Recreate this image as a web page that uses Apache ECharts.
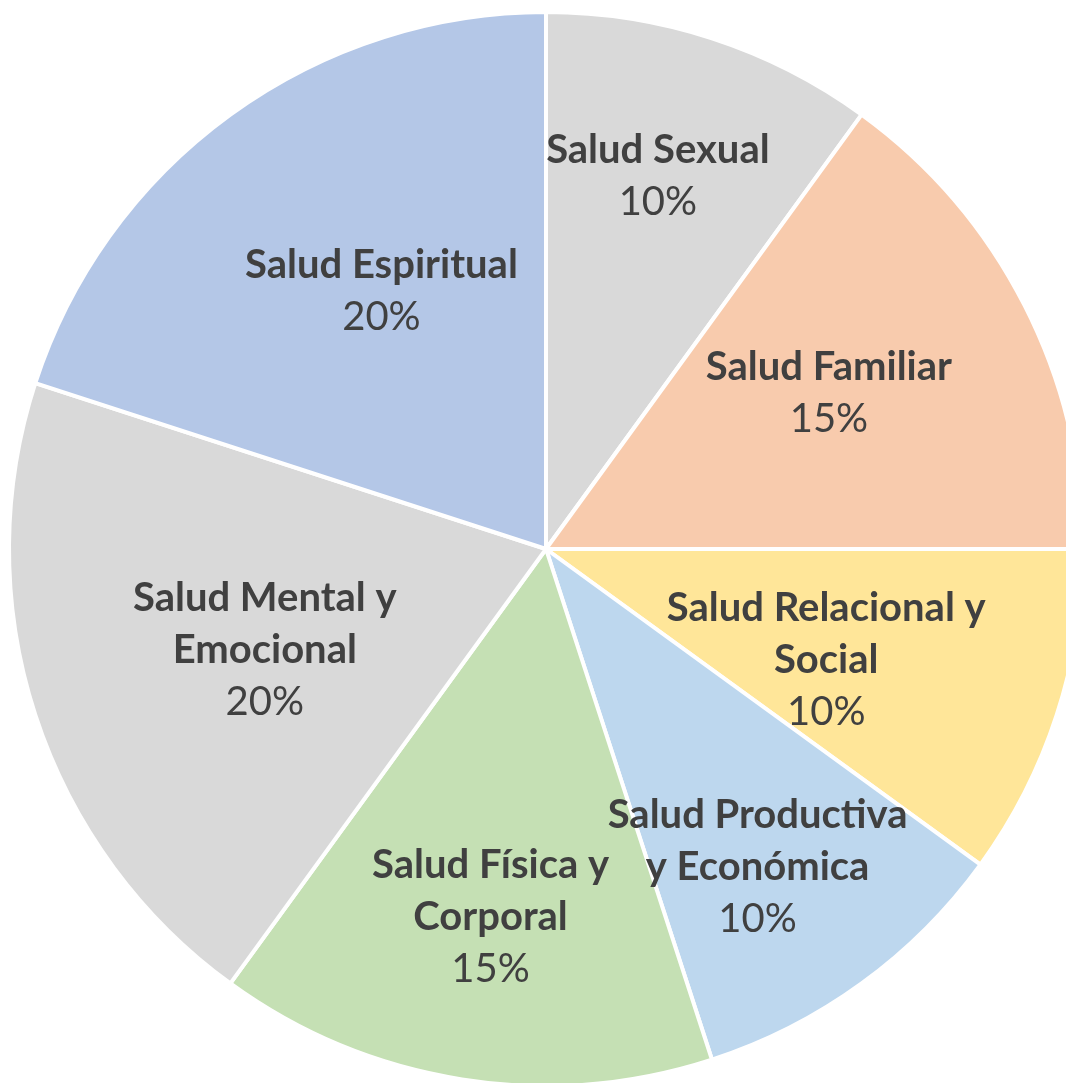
<!DOCTYPE html>
<html>
<head>
<meta charset="utf-8">
<script src="https://cdn.jsdelivr.net/npm/echarts@6/dist/echarts.min.js"></script>
<style>
  html, body { margin: 0; padding: 0; background: #fff; }
  #container { width: 1066px; height: 1083px; }
</style>
</head>
<body>
<div id="container"></div>
<script>
var categories = ['Salud Sexual', 'Salud Familiar', 'Salud Relacional y Social', 'Salud Productiva y Económica',
    'Salud Física y Corporal', 'Salud Mental y Emocional', 'Salud Espiritual'];
var values = [10, 15, 10, 10, 15, 20, 20];
// how each label breaks into lines
var labelLines = [
    ['Salud Sexual'],
    ['Salud Familiar'],
    ['Salud Relacional y', 'Social'],
    ['Salud Productiva', 'y Económica'],
    ['Salud Física y', 'Corporal'],
    ['Salud Mental y', 'Emocional'],
    ['Salud Espiritual']
];
var colors = ['#D9D9D9', '#F8CBAD', '#FFE699', '#BDD7EE', '#C5E0B4', '#D9D9D9', '#B4C7E7'];
// nudge labels from the mid-radius spot (Excel "best fit" look)
var labelShift = [[28, -115], [41, -33], [22, 27], [52, 98], [-13, 100], [-23, 17], [-5, -38]];

var dom = document.getElementById('container');
var myChart = echarts.init(dom);

var data = categories.map(function (c, i) {
    return { name: c, value: values[i], itemStyle: { color: colors[i] } };
});

var option = {
    backgroundColor: '#fff',
    animation: false,
    series: [
        {
            type: 'pie',
            center: [546, 549],
            radius: [0, 537],
            startAngle: 90,
            clockwise: true,
            itemStyle: {
                borderColor: '#fff',
                borderWidth: 4
            },
            label: {
                show: true,
                position: 'inside',
                color: '#404040',
                fontFamily: 'Lato',
                fontSize: 40,
                lineHeight: 52,
                align: 'center',
                formatter: function (p) {
                    var s = labelLines[p.dataIndex].map(function (l) { return '{b|' + l + '}'; }).join('\n');
                    return s + '\n{p|' + p.value + '%}';
                },
                rich: {
                    b: { fontFamily: 'Lato', fontWeight: 'bold', fontSize: 40, lineHeight: 52, color: '#404040' },
                    p: { fontFamily: 'Lato', fontWeight: 'normal', fontSize: 40, lineHeight: 52, color: '#404040' }
                }
            },
            labelLine: { show: false },
            labelLayout: function (params) {
                var s = labelShift[params.dataIndex];
                return { dx: s[0], dy: s[1] };
            },
            data: data
        }
    ]
};
myChart.setOption(option, true);
</script>
</body>
</html>
